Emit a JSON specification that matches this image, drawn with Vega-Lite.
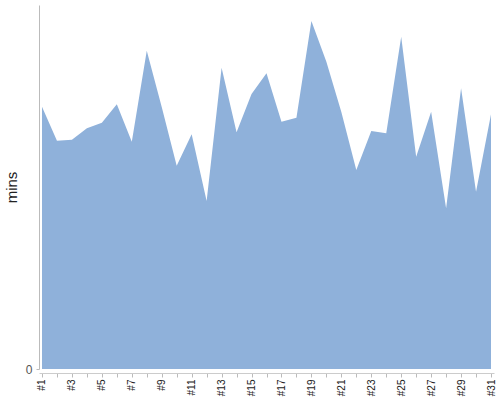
{
  "$schema": "https://vega.github.io/schema/vega-lite/v6.json",
  "autosize": "none",
  "width": 455,
  "height": 364,
  "padding": {"left": 39, "top": 5, "right": 6, "bottom": 31},
  "config": {"view": {"stroke": null}, "font": "Liberation Sans"},
  "data": {"values": [
    {"game": "#1", "mins": 262.3},
    {"game": "#2", "mins": 228.3},
    {"game": "#3", "mins": 229.3},
    {"game": "#4", "mins": 240.7},
    {"game": "#5", "mins": 246.3},
    {"game": "#6", "mins": 264.7},
    {"game": "#7", "mins": 227.3},
    {"game": "#8", "mins": 318.3},
    {"game": "#9", "mins": 262},
    {"game": "#10", "mins": 203.3},
    {"game": "#11", "mins": 234.7},
    {"game": "#12", "mins": 168},
    {"game": "#13", "mins": 301.3},
    {"game": "#14", "mins": 236.7},
    {"game": "#15", "mins": 275},
    {"game": "#16", "mins": 295.7},
    {"game": "#17", "mins": 247.3},
    {"game": "#18", "mins": 251.3},
    {"game": "#19", "mins": 348},
    {"game": "#20", "mins": 307.3},
    {"game": "#21", "mins": 257},
    {"game": "#22", "mins": 199},
    {"game": "#23", "mins": 238},
    {"game": "#24", "mins": 235.7},
    {"game": "#25", "mins": 332.3},
    {"game": "#26", "mins": 212.3},
    {"game": "#27", "mins": 257.3},
    {"game": "#28", "mins": 160.7},
    {"game": "#29", "mins": 280.7},
    {"game": "#30", "mins": 177.3},
    {"game": "#31", "mins": 254.7}
  ]},
  "mark": {"type": "area", "color": "#8fb1da", "opacity": 1},
  "encoding": {
    "x": {
      "field": "game", "type": "ordinal", "sort": null,
      "scale": {"type": "point", "padding": 0.2},
      "axis": {
        "title": null, "labelAngle": -90, "labelAlign": "right", "labelBaseline": "middle",
        "labelFontSize": 10, "labelColor": "#222",
        "labelExpr": "indexof(['#1','#3','#5','#7','#9','#11','#13','#15','#17','#19','#21','#23','#25','#27','#29','#31'], datum.value) >= 0 ? datum.value : ''",
        "labelOverlap": false,
        "domainColor": "#ccc", "tickColor": "#bbb", "tickSize": 4, "offset": 4,
        "grid": false
      }
    },
    "y": {
      "field": "mins", "type": "quantitative",
      "scale": {"domain": [0, 364], "nice": false},
      "axis": {
        "title": "mins", "titleFontSize": 15, "titleFontWeight": "normal", "titleColor": "#222",
        "titlePadding": 6,
        "values": [0], "labelFontSize": 12, "labelColor": "#555", "labelPadding": 4,
        "domainColor": "#bbb", "tickColor": "#bbb", "tickSize": 3,
        "grid": false
      }
    }
  }
}
